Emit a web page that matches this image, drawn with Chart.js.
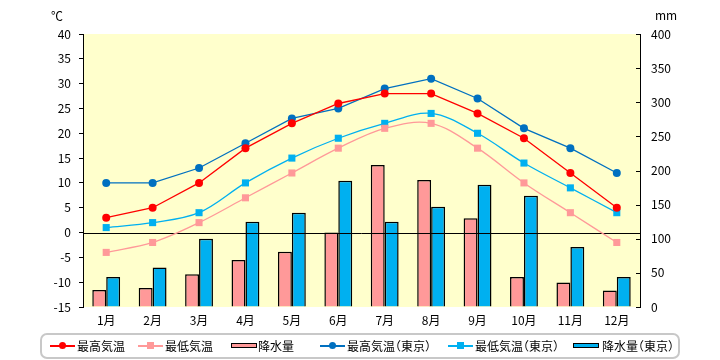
<!DOCTYPE html>
<html>
<head>
<meta charset="utf-8">
<script src="https://cdn.jsdelivr.net/npm/chart.js@4"></script>
<style>
  html, body { margin: 0; padding: 0; background: #fff; }
  #wrap { position: relative; width: 720px; height: 360px; font-family: "Noto Sans CJK JP", sans-serif; }
  canvas { position: absolute; left: 0; top: 0; }
  .t { position: absolute; font-size: 12px; line-height: 14px; color: #000; white-space: nowrap; }
  #legend { position: absolute; left: 40px; top: 333px; width: 636px; height: 22px; border: 2px solid #c8c8c8; border-radius: 7px; box-sizing: content-box; }
  .ln { position: absolute; top: 10px; height: 1.5px; width: 25px; }
  .dot { position: absolute; width: 7px; height: 7px; border-radius: 50%; top: 7px; }
  .sq { position: absolute; width: 7px; height: 7px; top: 7px; }
  .bx { position: absolute; top: 8px; width: 24px; height: 3px; border: 1.5px solid #000; }
  .lt { position: absolute; top: 4px; font-size: 12px; line-height: 14px; white-space: nowrap; font-feature-settings: "halt"; }
</style>
</head>
<body>
<div id="wrap">
  <canvas id="c" width="720" height="360"></canvas>
  <div class="t" style="left:51px; top:9px;">℃</div>
  <div class="t" style="left:655px; top:8px;">mm</div>
  <div id="legend"></div>
</div>
<script>
const months = ['1月','2月','3月','4月','5月','6月','7月','8月','9月','10月','11月','12月'];
const maxTemp = [3, 5, 10, 17, 22, 26, 28, 28, 24, 19, 12, 5];
const minTemp = [-4, -2, 2, 7, 12, 17, 21, 22, 17, 10, 4, -2];
const precip = [25, 28, 48, 69, 81, 109, 208, 186, 130, 44, 36, 24];
const tokyoMax = [10, 10, 13, 18, 23, 25, 29, 31, 27, 21, 17, 12];
const tokyoMin = [1, 2, 4, 10, 15, 19, 22, 24, 20, 14, 9, 4];
const tokyoPrecip = [44, 58, 100, 125, 138, 185, 125, 147, 179, 163, 88, 44];
const seriesNames = ['最高気温', '最低気温', '降水量', '最高気温（東京）', '最低気温（東京）', '降水量（東京）'];

const C_RED = '#ff0000', C_PINK = '#ff9999', C_BLUE = '#0070c0', C_LBLUE = '#00b0f0';

const bgPlugin = {
  id: 'bg',
  beforeDraw(chart) {
    const a = chart.chartArea, ctx = chart.ctx;
    ctx.save();
    ctx.fillStyle = '#ffffcc';
    ctx.fillRect(a.left, a.top, a.right - a.left, a.bottom - a.top);
    ctx.restore();
  },
  afterDatasetDraw(chart, args) {
    if (args.index !== 2) return;
    const a = chart.chartArea, ctx = chart.ctx;
    const y = Math.round(chart.scales.y.getPixelForValue(0)) + 0.5;
    ctx.save();
    ctx.strokeStyle = '#000';
    ctx.lineWidth = 1;
    ctx.beginPath();
    ctx.moveTo(a.left, y);
    ctx.lineTo(a.right, y);
    ctx.stroke();
    ctx.restore();
  },
  afterDraw(chart) {
    const s = chart.scales.y2, ctx = chart.ctx;
    const x = chart.chartArea.right;
    ctx.save();
    ctx.strokeStyle = '#000';
    ctx.lineWidth = 1;
    s.ticks.forEach(t => {
      const y = Math.round(s.getPixelForValue(t.value)) + 0.5;
      ctx.beginPath();
      ctx.moveTo(x - 4, y);
      ctx.lineTo(x, y);
      ctx.stroke();
    });
    ctx.restore();
  }
};

const font = { family: '"Noto Sans CJK JP", sans-serif', size: 12 };

new Chart(document.getElementById('c'), {
  type: 'bar',
  data: {
    labels: months,
    datasets: [
      { type: 'line', label: seriesNames[0], data: maxTemp, yAxisID: 'y', borderColor: C_RED, backgroundColor: C_RED, borderWidth: 1.3, pointStyle: 'circle', pointRadius: 4, pointBorderWidth: 0, tension: 0, order: 0 },
      { type: 'line', label: seriesNames[1], data: minTemp, yAxisID: 'y', borderColor: C_PINK, backgroundColor: C_PINK, borderWidth: 1.3, pointStyle: 'rect', pointRadius: 5, pointBorderWidth: 0, tension: 0.35, order: 0 },
      { type: 'bar', label: seriesNames[2], data: precip, yAxisID: 'y2', backgroundColor: C_PINK, borderColor: '#000', borderWidth: 1.5, borderSkipped: 'bottom', categoryPercentage: 0.6, barPercentage: 1.0, order: 1 },
      { type: 'line', label: seriesNames[3], data: tokyoMax, yAxisID: 'y', borderColor: C_BLUE, backgroundColor: C_BLUE, borderWidth: 1.3, pointStyle: 'circle', pointRadius: 4, pointBorderWidth: 0, tension: 0, order: 0 },
      { type: 'line', label: seriesNames[4], data: tokyoMin, yAxisID: 'y', borderColor: C_LBLUE, backgroundColor: C_LBLUE, borderWidth: 1.3, pointStyle: 'rect', pointRadius: 5, pointBorderWidth: 0, tension: 0.35, order: 0 },
      { type: 'bar', label: seriesNames[5], data: tokyoPrecip, yAxisID: 'y2', backgroundColor: C_LBLUE, borderColor: '#000', borderWidth: 1.5, borderSkipped: 'bottom', categoryPercentage: 0.6, barPercentage: 1.0, order: 1 }
    ]
  },
  options: {
    responsive: false,
    animation: false,
    layout: { padding: { top: 34, left: 0, right: 0, bottom: 0 } },
    plugins: { legend: { display: false }, tooltip: { enabled: false }, title: { display: false } },
    scales: {
      x: {
        grid: { display: false, drawTicks: false },
        border: { display: false },
        ticks: { font, color: '#000', padding: 6, maxRotation: 0, autoSkip: false },
        afterFit(s) { s.height = 53; }
      },
      y: {
        position: 'left',
        min: -15, max: 40,
        ticks: { stepSize: 5, font, color: '#000', padding: 8 },
        grid: { drawOnChartArea: false, drawTicks: true, tickLength: 4, tickColor: '#000' },
        border: { display: true, color: '#000', width: 1 },
        afterFit(s) { s.width = 83; }
      },
      y2: {
        position: 'right',
        min: 0, max: 400,
        ticks: { stepSize: 50, font, color: '#000', padding: 11 },
        grid: { drawOnChartArea: false, drawTicks: false },
        border: { display: true, color: '#000', width: 1 },
        afterFit(s) { s.width = 80; }
      }
    }
  },
  plugins: [bgPlugin]
});

const legendItems = [
  { name: seriesNames[0], kind: 'line', mark: 'dot', color: C_RED, x: 10, tx: 37 },
  { name: seriesNames[1], kind: 'line', mark: 'sq', color: C_PINK, x: 98, tx: 125 },
  { name: seriesNames[2], kind: 'bar', color: C_PINK, x: 191, tx: 218 },
  { name: seriesNames[3], kind: 'line', mark: 'dot', color: C_BLUE, x: 280, tx: 307 },
  { name: seriesNames[4], kind: 'line', mark: 'sq', color: C_LBLUE, x: 408, tx: 435 },
  { name: seriesNames[5], kind: 'bar', color: C_LBLUE, x: 533, tx: 562 }
];
const lg = document.getElementById('legend');
legendItems.forEach(it => {
  if (it.kind === 'line') {
    const l = document.createElement('div');
    l.className = 'ln';
    l.style.left = (it.x - 2) + 'px';
    l.style.background = it.color;
    lg.appendChild(l);
    const m = document.createElement('div');
    m.className = it.mark;
    m.style.left = (it.x - 2 + 9) + 'px';
    m.style.background = it.color;
    lg.appendChild(m);
  } else {
    const b = document.createElement('div');
    b.className = 'bx';
    b.style.left = (it.x - 2) + 'px';
    b.style.background = it.color;
    lg.appendChild(b);
  }
  const t = document.createElement('div');
  t.className = 'lt';
  t.style.left = (it.tx - 2) + 'px';
  t.textContent = it.name;
  lg.appendChild(t);
});
</script>
</body>
</html>
